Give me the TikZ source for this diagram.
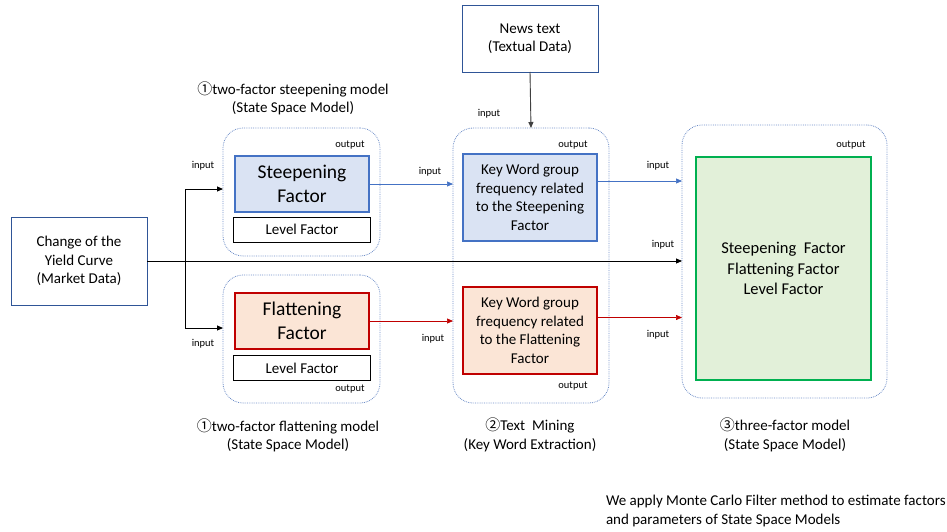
\documentclass[tikz,border=0pt]{standalone}
\usepackage{fontspec}
\setmainfont{Carlito}
\newfontfamily\cjk{Noto Sans CJK JP}
\usetikzlibrary{arrows.meta}
\definecolor{cblue}{HTML}{4472C4}
\definecolor{cdblue}{HTML}{2F5597}
\definecolor{cred}{HTML}{C00000}
\definecolor{cgreen}{HTML}{00B050}
\definecolor{fblue}{HTML}{DAE3F3}
\definecolor{fred}{HTML}{FBE5D6}
\definecolor{fgreen}{HTML}{E2F0D9}
\definecolor{gline}{HTML}{6F8FC8}
\tikzset{
  every node/.style={inner sep=0pt, outer sep=0pt},
  txt/.style={font=\fontsize{15}{18.5}\selectfont, align=center},
  small/.style={font=\fontsize{10.5}{12}\selectfont},
  grp/.style={draw=gline, densely dotted, line width=0.8pt, rounded corners=20pt},
  databox/.style={draw=cdblue, line width=0.9pt, txt},
  levelbox/.style={draw=black, line width=0.9pt, txt, minimum width=137pt, minimum height=25pt},
  steepbox/.style={draw=cblue, fill=fblue, line width=2.4pt, align=center},
  flatbox/.style={draw=cred, fill=fred, line width=2.4pt, align=center},
  arr/.style={-{Triangle[length=6pt,width=5pt]}, line width=0.9pt},
}
\begin{document}
\begin{tikzpicture}[x=1pt,y=-1pt]
\useasboundingbox (0,0) rectangle (947,532);
% groups
\node[grp, minimum width=157pt, minimum height=128pt] (g1) at (301.5,192) {};
\node[grp, minimum width=157pt, minimum height=128pt] (g2) at (301.5,339) {};
\node[grp, minimum width=156pt, minimum height=275pt] (g3) at (531,265.5) {};
\node[grp, minimum width=205pt, minimum height=273pt] (g4) at (784.5,261.5) {};
% data boxes
\node[databox, minimum width=136pt, minimum height=88pt] (yield) at (79,261) {Change of the\\Yield Curve\\(Market Data)};
\node[databox, minimum width=136pt, minimum height=67pt] (news) at (530,38.5) {News text\\(Textual Data)};
% model 1
\node[steepbox, minimum width=134pt, minimum height=56pt, font=\fontsize{19.5}{24}\selectfont] (steep) at (302,184) {Steepening\\Factor};
\node[levelbox] (lev1) at (302,229.5) {Level Factor};
\node[flatbox, minimum width=134pt, minimum height=56pt, font=\fontsize{19.5}{24}\selectfont] (flat) at (302,321) {Flattening\\Factor};
\node[levelbox] (lev2) at (302,368) {Level Factor};
% text mining
\node[steepbox, txt, minimum width=134pt, minimum height=87pt] (kws) at (530,197.5) {Key Word group\\frequency related\\to the Steepening\\Factor};
\node[flatbox, txt, minimum width=134pt, minimum height=87pt] (kwf) at (530,330.5) {Key Word group\\frequency related\\to the Flattening\\Factor};
% three factor
\node[draw=cgreen, fill=fgreen, line width=2.4pt, minimum width=175pt, minimum height=223pt, align=center, font=\fontsize{16.5}{20.5}\selectfont] (three) at (783.5,268.5) {Steepening~~Factor\\Flattening Factor\\Level Factor};
% titles
\node[txt] (t1) at (293,98.5) {{\cjk ①}two-factor steepening model\\(State Space Model)};
\node[txt] (t2) at (288,435.5) {{\cjk ①}two-factor flattening model\\(State Space Model)};
\node[txt] (t3) at (530,435) {{\cjk ②}Text~ Mining\\(Key Word Extraction)};
\node[txt] (t4) at (785,435) {{\cjk ③}three-factor model\\(State Space Model)};
\node[txt, align=left, anchor=west] (note) at (606,511) {We apply Monte Carlo Filter method to estimate factors\\and parameters of State Space Models};
% small labels
\node[small] (o1) at (350,145) {output};
\node[small] (i1) at (203,166) {input};
\node[small] (o2) at (350,389) {output};
\node[small] (i2) at (203,344) {input};
\node[small] (o3) at (573,145) {output};
\node[small] (o4) at (573,386) {output};
\node[small] (i3) at (489,114) {input};
\node[small] (i4) at (430,172) {input};
\node[small] (i5) at (433,339) {input};
\node[small] (o5) at (851,145) {output};
\node[small] (i6) at (658,166) {input};
\node[small] (i7) at (663,245) {input};
\node[small] (i8) at (658,335) {input};
% connectors
\coordinate (j) at (185,261);
\draw[arr] (yield.east) -- (yield.east -| g4.west);
\draw[arr] (j) |- ([yshift=3pt]g1.west);
\draw[arr] (j) |- ([yshift=11pt]g2.west);
\draw[arr, draw=cblue, fill=cblue, line width=0.7pt] (steep.east) -- (steep.east -| g3.west);
\draw[arr, draw=cred, fill=cred, line width=0.7pt] (flat.east) -- (flat.east -| g3.west);
\draw[arr, draw=cblue, fill=cblue, line width=0.7pt] ([yshift=16.5pt]kws.east) -- ([yshift=16.5pt]kws.east -| g4.west);
\draw[arr, draw=cred, fill=cred, line width=0.7pt] ([yshift=13pt]kwf.east) -- ([yshift=13pt]kwf.east -| g4.west);
\draw[arr, draw=black!75, fill=black!75] (news.south) -- (g3.north);
\end{tikzpicture}
\end{document}
